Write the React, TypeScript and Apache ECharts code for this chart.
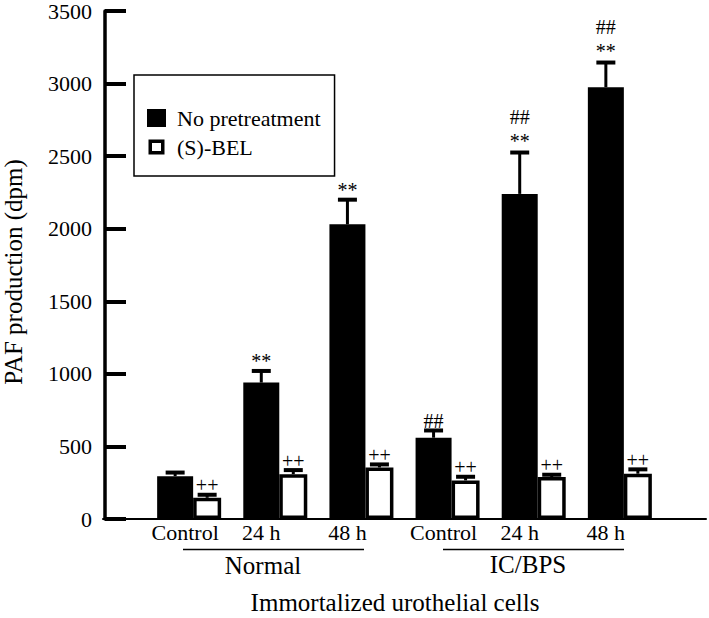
import React, { useEffect, useRef } from 'react';
import * as echarts from 'echarts';

// ---- data ----
const categories = ['Control', '24 h', '48 h', 'Control', '24 h', '48 h'];
const groupLabels = ['Normal', 'IC/BPS'];
const seriesNames = ['No pretreatment', '(S)-BEL'];
const noPretreatment = [295, 940, 2030, 560, 2240, 2975];
const noPretreatmentErr = [25, 80, 170, 50, 285, 170];
const noPretreatmentMarks = ['', '**', '**', '##', '##\n**', '##\n**'];
const bel = [146, 309, 355, 266, 289, 312];
const belErr = [21, 28, 21, 25, 16, 30];
const belMarks = ['++', '++', '++', '++', '++', '++'];
const yTicks = { min: 0, max: 3500, interval: 500 };
const yTitle = 'PAF production (dpm)';
const xTitle = 'Immortalized urothelial cells';

const FONT = '"Liberation Serif", "Times New Roman", Times, serif';

function errorRenderer(offset: number, marks: string[]) {
  return (params: any, api: any) => {
    const x = api.value(0);
    const v = api.value(1);
    const e = api.value(2);
    const base = api.coord([x, v]);
    const top = api.coord([x, v + e]);
    const cx = base[0] + offset;
    const mark = marks[params.dataIndex];
    const multi = mark.indexOf('\n') >= 0;
    return {
      type: 'group',
      children: [
        { type: 'line', shape: { x1: cx, y1: base[1], x2: cx, y2: top[1] }, style: { stroke: '#000', lineWidth: 3 } },
        { type: 'line', shape: { x1: cx - 9.5, y1: top[1], x2: cx + 9.5, y2: top[1] }, style: { stroke: '#000', lineWidth: 4 } },
        {
          type: 'text',
          x: cx,
          y: top[1] + (multi ? 0.5 : 2.5),
          style: {
            text: mark,
            fill: '#000',
            fontSize: 20,
            fontFamily: FONT,
            align: 'center',
            verticalAlign: 'bottom',
            lineHeight: 24,
          },
        },
      ],
    };
  };
}

export default function App() {
  const ref = useRef<HTMLDivElement>(null);
  useEffect(() => {
    const chart = echarts.init(ref.current!, null, { renderer: 'svg' });
    const xs = categories.map((_, i) => i + 1);
    const option: any = {
      animation: false,
      backgroundColor: '#fff',
      grid: { left: 103, right: 3, top: 11, bottom: 99, containLabel: false, outerBoundsMode: 'none' },
      legend: {
        orient: 'vertical',
        left: 134,
        top: 75,
        padding: [32, 14, 18, 13],
        borderColor: '#000',
        borderWidth: 1.5,
        itemWidth: 19,
        itemHeight: 18,
        itemGap: 7,
        selectedMode: false,
        textStyle: { fontFamily: FONT, fontSize: 22, color: '#000', lineHeight: 18, padding: [0, 0, 0, 6] },
        data: [
          { name: seriesNames[0], icon: 'rect', itemStyle: { color: '#000', borderWidth: 0 } },
          {
            name: seriesNames[1],
            icon: 'path://M0 0L0.01 0L0.01 0.01ZM19 18L18.99 18L18.99 17.99ZM1.5 1.5L17.5 1.5L17.5 16.5L1.5 16.5ZM5 5L5 13L14 13L14 5Z',
            itemStyle: { color: '#000', borderWidth: 0 },
          },
        ],
      },
      xAxis: {
        type: 'value',
        min: 0,
        max: 7,
        interval: 1,
        splitLine: { show: false },
        axisTick: { show: false },
        axisLine: { show: true, lineStyle: { color: '#000', width: 2 } },
        axisLabel: {
          margin: 2,
          color: '#000',
          fontFamily: FONT,
          fontSize: 22,
          formatter: (v: number) => {
            const i = Math.round(v) - 1;
            if (i < 0 || i >= categories.length) return '';
            return categories[i] === 'Control' ? `{c|${categories[i]}}` : `{h|${categories[i]}}`;
          },
          rich: {
            c: { fontFamily: FONT, fontSize: 22, color: '#000', padding: [0, 8, 0, 0] },
            h: { fontFamily: FONT, fontSize: 22, color: '#000', padding: [0, 28, 0, 0] },
          },
        },
        name: xTitle,
        nameLocation: 'middle',
        nameGap: 71,
        nameTextStyle: { fontFamily: FONT, fontSize: 25, color: '#000', padding: [0, 19, 0, 0] },
      },
      yAxis: {
        type: 'value',
        min: yTicks.min,
        max: yTicks.max,
        interval: yTicks.interval,
        offset: -2,
        splitLine: { show: false },
        axisLine: { show: true, lineStyle: { color: '#000', width: 3.5 } },
        axisTick: { show: true, inside: true, length: 21, lineStyle: { color: '#000', width: 4 } },
        axisLabel: { color: '#000', fontFamily: FONT, fontSize: 22, margin: 13, formatter: (v: number) => String(v) },
        name: yTitle,
        nameLocation: 'middle',
        nameRotate: 90,
        nameGap: 79,
        nameTextStyle: { fontFamily: FONT, fontSize: 25, color: '#000', padding: [0, 14, 0, 0] },
      },
      series: [
        {
          name: seriesNames[0],
          type: 'bar',
          data: xs.map((x, i) => [x, noPretreatment[i]]),
          barWidth: 36,
          barGap: '0%',
          itemStyle: { color: '#000' },
          z: 2,
        },
        {
          name: seriesNames[1],
          type: 'bar',
          data: xs.map((x, i) => [x, bel[i]]),
          barWidth: 28,
          barGap: '0%',
          itemStyle: { color: '#fff', borderColor: '#000', borderWidth: 3.5 },
          z: 3,
        },
        {
          type: 'custom',
          renderItem: errorRenderer(-14, noPretreatmentMarks),
          data: xs.map((x, i) => [x, noPretreatment[i], noPretreatmentErr[i]]),
          encode: { x: 0, y: 1 },
          z: 4,
          silent: true,
        },
        {
          type: 'custom',
          renderItem: errorRenderer(18, belMarks),
          data: xs.map((x, i) => [x, bel[i], belErr[i]]),
          encode: { x: 0, y: 1 },
          z: 4,
          silent: true,
        },
      ],
      graphic: [
        { type: 'line', shape: { x1: 183, y1: 549.5, x2: 364, y2: 549.5 }, style: { stroke: '#000', lineWidth: 1.6 } },
        { type: 'line', shape: { x1: 443, y1: 549.5, x2: 624, y2: 549.5 }, style: { stroke: '#000', lineWidth: 1.6 } },
        {
          type: 'text', x: 263, y: 565,
          style: { text: groupLabels[0], fontFamily: FONT, fontSize: 25, fill: '#000', align: 'center', verticalAlign: 'middle' },
        },
        {
          type: 'text', x: 528, y: 564,
          style: { text: groupLabels[1], fontFamily: FONT, fontSize: 25, fill: '#000', align: 'center', verticalAlign: 'middle' },
        },
      ],
    };
    chart.setOption(option);
    return () => chart.dispose();
  }, []);
  return <div ref={ref} style={{ position: 'fixed', left: 0, top: 0, width: 709, height: 618 }} />;
}
